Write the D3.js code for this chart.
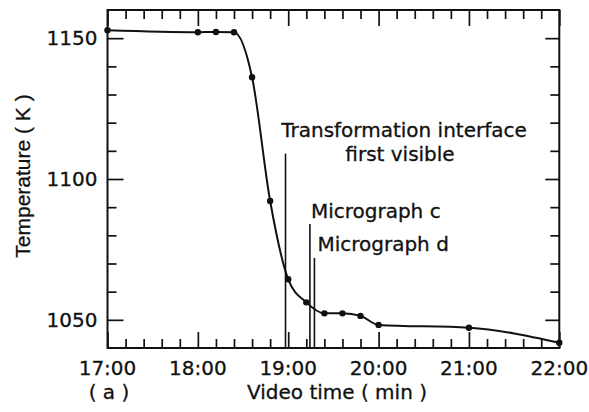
<!DOCTYPE html>
<html>
<head>
<meta charset="utf-8">
<script src="https://d3js.org/d3.v7.min.js"></script>
<style>
  html, body { margin: 0; padding: 0; background: #fff; }
  svg { display: block; }
  text { font-family: 'DejaVu Sans', sans-serif; fill: #111; stroke: #111; stroke-width: 0.3px; }
</style>
</head>
<body>
<div id="chart"></div>
<script>
// video time (min) and furnace temperature (K)
const times = [17, 18, 18.2, 18.4, 18.6, 18.8, 19, 19.2, 19.4, 19.6, 19.8, 20, 21, 22];
const temps = [1152.8, 1152.1, 1152.2, 1152.1, 1136.1, 1092.2, 1064.4, 1056.2, 1052.3, 1052.3, 1051.4, 1048.2, 1047.2, 1041.9];

// event markers (vertical lines)
const markerTimes = [18.97, 19.24, 19.29];
const markerTops = [1109, 1084, 1072];

const xTicks = [17, 18, 19, 20, 21, 22];
const xTickLabels = ['17:00', '18:00', '19:00', '20:00', '21:00', '22:00'];
const yTicks = [1050, 1100, 1150];
const yTickLabels = ['1050', '1100', '1150'];

document.addEventListener('DOMContentLoaded', () => {
  const W = 589, H = 412;
  const left = 107.5, right = 559.3, top = 10, bottom = 348;
  const FS = '20px';

  const svg = d3.select('#chart').append('svg')
    .attr('width', W).attr('height', H);

  const x = d3.scaleLinear().domain([17, 22]).range([left, right]);
  const y = d3.scaleLinear().domain([1040, 1160]).range([bottom, top]);

  const xMinor = d3.range(17, 22.001, 0.2).filter(v => Math.abs(v - Math.round(v)) > 0.01);
  const yMinor = d3.range(1050, 1151, 10).filter(v => v % 50 !== 0);

  const MAJ = 16, MIN = 9;

  // inward ticks on all four sides
  function ticks(axisFn, scale, vals, size, tr) {
    const g = svg.append('g').attr('transform', tr)
      .call(axisFn(scale).tickValues(vals).tickSize(-size).tickFormat(''));
    g.select('.domain').remove();
    g.selectAll('line').attr('stroke', '#111').attr('stroke-width', 1.7);
  }
  ticks(d3.axisBottom, x, xTicks, MAJ, `translate(0,${bottom})`);
  ticks(d3.axisBottom, x, xMinor, MIN, `translate(0,${bottom})`);
  ticks(d3.axisTop, x, xTicks, MAJ, `translate(0,${top})`);
  ticks(d3.axisTop, x, xMinor, MIN, `translate(0,${top})`);
  ticks(d3.axisLeft, y, yTicks, MAJ, `translate(${left},0)`);
  ticks(d3.axisLeft, y, yMinor, MIN, `translate(${left},0)`);
  ticks(d3.axisRight, y, yTicks, MAJ - 2, `translate(${right},0)`);
  ticks(d3.axisRight, y, yMinor, MIN, `translate(${right},0)`);

  // frame
  svg.append('rect')
    .attr('x', left).attr('y', top)
    .attr('width', right - left).attr('height', bottom - top)
    .attr('fill', 'none').attr('stroke', '#111').attr('stroke-width', 2);

  // tick labels
  svg.append('g').selectAll('text')
    .data(xTicks).enter().append('text')
    .attr('x', d => x(d)).attr('y', bottom + 27)
    .attr('text-anchor', 'middle')
    .style('font-size', FS)
    .text((d, i) => xTickLabels[i]);

  svg.append('g').selectAll('text')
    .data(yTicks).enter().append('text')
    .attr('x', left - 10).attr('y', d => y(d))
    .attr('dy', '0.36em')
    .attr('text-anchor', 'end')
    .style('font-size', FS)
    .text((d, i) => yTickLabels[i]);

  // axis titles
  svg.append('text')
    .attr('transform', `translate(30,176) rotate(-90)`)
    .attr('text-anchor', 'middle')
    .style('font-family', "'Liberation Sans', Arial, sans-serif")
    .style('font-size', '21px')
    .text('Temperature ( K )');

  svg.append('text')
    .attr('x', 337).attr('y', 399)
    .attr('text-anchor', 'middle')
    .style('font-size', FS)
    .text('Video time ( min )');

  svg.append('text')
    .attr('x', 109).attr('y', 399)
    .attr('text-anchor', 'middle')
    .style('font-size', FS)
    .text('( a )');

  // marker lines
  svg.append('g').selectAll('line')
    .data(markerTimes).enter().append('line')
    .attr('x1', d => x(d)).attr('x2', d => x(d))
    .attr('y1', (d, i) => y(markerTops[i])).attr('y2', bottom)
    .attr('stroke', '#111').attr('stroke-width', 1.6);

  // marker labels
  const mx = markerTimes.map(x);
  const my = markerTops.map(y);
  const lab = svg.append('g').style('font-size', FS);
  lab.append('text').attr('x', mx[0] + 118.5).attr('y', my[0] - 17)
    .attr('text-anchor', 'middle').text('Transformation interface');
  lab.append('text').attr('x', mx[0] + 114.5).attr('y', my[0] + 7)
    .attr('text-anchor', 'middle').text('first visible');
  lab.append('text').attr('x', mx[1] + 1).attr('y', my[1] - 6).text('Micrograph c');
  lab.append('text').attr('x', mx[2] + 3).attr('y', my[2] - 7).text('Micrograph d');

  // temperature curve
  const pts = times.map((t, i) => [t, temps[i]]);
  const line = d3.line()
    .x(d => x(d[0])).y(d => y(d[1]))
    .curve(d3.curveMonotoneX);

  svg.append('path')
    .datum(pts)
    .attr('d', line)
    .attr('fill', 'none')
    .attr('stroke', '#111')
    .attr('stroke-width', 2);

  svg.append('g').selectAll('circle')
    .data(pts).enter().append('circle')
    .attr('cx', d => x(d[0])).attr('cy', d => y(d[1]))
    .attr('r', 3.2)
    .attr('fill', '#111');
});
</script>
</body>
</html>
